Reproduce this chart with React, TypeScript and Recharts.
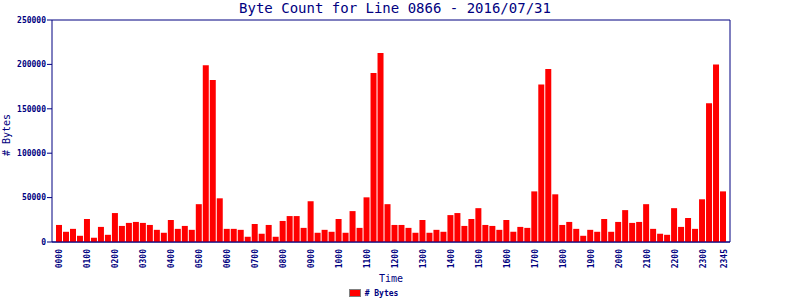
import { BarChart, Bar, XAxis, YAxis, CartesianGrid, Legend } from "recharts";

const NAVY = "#000080";
const MONO = "'DejaVu Sans Mono', monospace";

// 15-minute slots, 0000 .. 2345
const times = [
  "0000", "0015", "0030", "0045", "0100", "0115", "0130", "0145",
  "0200", "0215", "0230", "0245", "0300", "0315", "0330", "0345",
  "0400", "0415", "0430", "0445", "0500", "0515", "0530", "0545",
  "0600", "0615", "0630", "0645", "0700", "0715", "0730", "0745",
  "0800", "0815", "0830", "0845", "0900", "0915", "0930", "0945",
  "1000", "1015", "1030", "1045", "1100", "1115", "1130", "1145",
  "1200", "1215", "1230", "1245", "1300", "1315", "1330", "1345",
  "1400", "1415", "1430", "1445", "1500", "1515", "1530", "1545",
  "1600", "1615", "1630", "1645", "1700", "1715", "1730", "1745",
  "1800", "1815", "1830", "1845", "1900", "1915", "1930", "1945",
  "2000", "2015", "2030", "2045", "2100", "2115", "2130", "2145",
  "2200", "2215", "2230", "2245", "2300", "2315", "2330", "2345",
];

const bytes = [
  19200, 11500, 14800, 7000, 25900, 4800, 17000, 8100,
  32600, 18100, 21500, 22600, 21500, 19200, 13700, 10400,
  24800, 14800, 18100, 13700, 42600, 199000, 182400, 49200,
  14800, 14800, 13700, 5900, 20400, 9300, 19200, 5900,
  23700, 29200, 29200, 15900, 45900, 10400, 13700, 11500,
  25900, 10400, 34800, 15900, 50300, 190300, 212800, 42600,
  19200, 19200, 15900, 10400, 24800, 10400, 13700, 11500,
  30300, 32600, 18100, 25900, 38100, 19200, 18100, 13700,
  24800, 11500, 17000, 15900, 57000, 177300, 194800, 53700,
  19200, 22600, 14800, 7000, 13700, 11500, 25900, 11500,
  22600, 35900, 21500, 22600, 42600, 14800, 9300, 8100,
  38100, 17000, 27000, 14800, 48100, 156200, 200000, 57000,
];

const xTickLabels = [
  "0000", "0100", "0200", "0300", "0400", "0500", "0600", "0700",
  "0800", "0900", "1000", "1100", "1200", "1300", "1400", "1500",
  "1600", "1700", "1800", "1900", "2000", "2100", "2200", "2300", "2345",
];

const yTicks = [0, 50000, 100000, 150000, 200000, 250000];

const data = times.map((time, i) => ({ time, bytes: bytes[i] }));

function TimeTick(props: any) {
  const { x, y, payload } = props;
  if (!xTickLabels.includes(payload.value)) return <g />;
  const ty = y + 5;
  return (
    <text
      x={x}
      y={ty}
      dy={3}
      transform={`rotate(-90 ${x} ${ty})`}
      textAnchor="end"
      fontFamily={MONO}
      fontSize={8}
      fontWeight="bold"
      fill={NAVY}
    >
      {payload.value}
    </text>
  );
}

function LegendBox() {
  return (
    <div
      style={{
        display: "flex",
        justifyContent: "center",
        alignItems: "center",
        height: 14,
        fontFamily: MONO,
        fontSize: 8,
        fontWeight: "bold",
        color: NAVY,
        paddingLeft: 8,
      }}
    >
      <span
        style={{
          display: "inline-block",
          width: 10,
          height: 6,
          background: "#ff0000",
          border: "1px solid #808080",
          marginRight: 4,
        }}
      />
      # Bytes
    </div>
  );
}

export default function App() {
  return (
    <div style={{ position: "absolute", left: 0, top: 0, width: 800, height: 300, background: "#fff" }}>
      <div
        style={{
          position: "absolute",
          left: 0,
          top: 0,
          width: 790,
          textAlign: "center",
          fontFamily: MONO,
          fontSize: 14,
          lineHeight: "16px",
          color: NAVY,
        }}
      >
        Byte Count for Line 0866 - 2016/07/31
      </div>
      <BarChart
        width={800}
        height={300}
        data={data}
        margin={{ top: 20, right: 69, left: 8, bottom: 0 }}
      >
        <CartesianGrid horizontal vertical={false} stroke={NAVY} strokeWidth={1} />
        <XAxis
          dataKey="time"
          interval={0}
          tickLine={false}
          tickSize={0}
          tick={<TimeTick />}
          axisLine={{ stroke: NAVY }}
          padding={{ left: 4, right: 3 }}
          height={44}
          label={{
            value: "Time",
            position: "insideBottom",
            offset: 4,
            fill: NAVY,
            fontFamily: MONO,
            fontSize: 10,
          }}
        />
        <YAxis
          yAxisId="left"
          width={44}
          domain={[0, 250000]}
          ticks={yTicks}
          interval={0}
          tickSize={5}
          tickMargin={1}
          tickLine={{ stroke: NAVY }}
          axisLine={{ stroke: NAVY }}
          tick={{ fill: NAVY, fontFamily: MONO, fontSize: 8, fontWeight: "bold" }}
          label={({ viewBox }: any) => (
            <text
              x={viewBox.x - 2}
              y={viewBox.y + viewBox.height / 2 + 4}
              transform={`rotate(-90 ${viewBox.x - 2} ${viewBox.y + viewBox.height / 2 + 4})`}
              textAnchor="middle"
              dy={4}
              fontFamily={MONO}
              fontSize={10}
              fill={NAVY}
            >
              # Bytes
            </text>
          )}
        />
        <YAxis
          yAxisId="right"
          orientation="right"
          width={1}
          domain={[0, 250000]}
          ticks={yTicks}
          tick={false}
          tickLine={false}
          axisLine={{ stroke: NAVY }}
        />
        <Legend verticalAlign="bottom" height={14} content={() => <LegendBox />} />
        <Bar
          yAxisId="left"
          dataKey="bytes"
          name="# Bytes"
          fill="#ff0000"
          barSize={6}
          isAnimationActive={false}
        />
      </BarChart>
    </div>
  );
}
